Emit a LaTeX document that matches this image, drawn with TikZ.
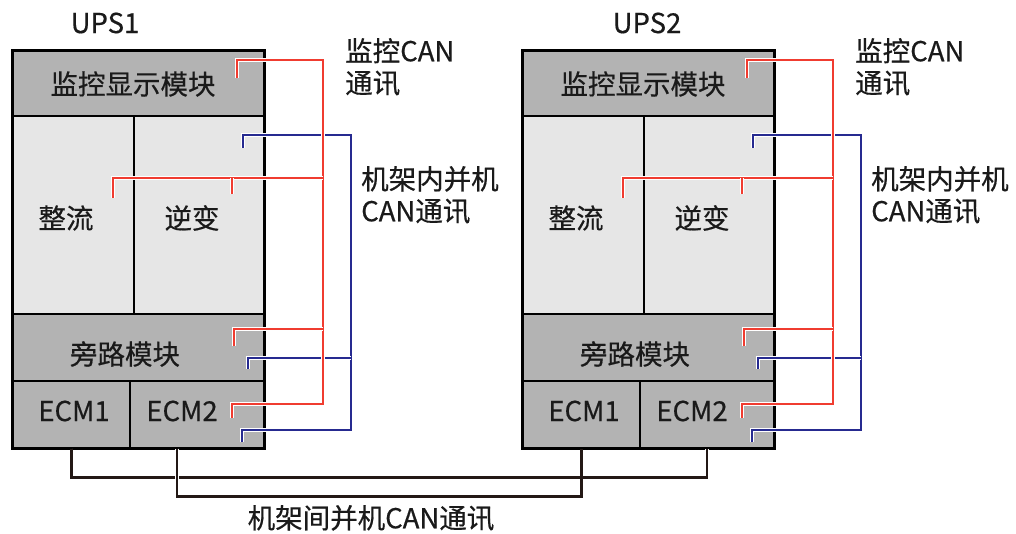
\documentclass[tikz,border=0pt]{standalone}
\usepackage{fontspec}
\setmainfont{Noto Sans CJK SC}[FakeBold=0.5]
\usepackage{xcolor}
\usepackage{tikz}
\usetikzlibrary{calc}
\definecolor{darkgray}{HTML}{B3B3B3}
\definecolor{lightgray}{HTML}{E6E6E6}
\definecolor{monred}{HTML}{F03C30}
\definecolor{canblue}{HTML}{262A90}
\definecolor{busline}{HTML}{231815}
\definecolor{ink}{HTML}{1A1A1A}
\tikzset{
  cell/.style={draw=black, line width=1.6pt, inner sep=0pt, anchor=north west},
  darkcell/.style={cell, fill=darkgray},
  lightcell/.style={cell, fill=lightgray},
  frame/.style={draw=black, line width=3pt},
  wire/.style={line width=2.4pt, preaction={draw=white, line width=3.6pt}},
  redwire/.style={wire, draw=monred},
  bluewire/.style={wire, draw=canblue},
  buswire/.style={wire, draw=busline},
  lbl/.style={font=\fontsize{27.5}{32}\selectfont, text=ink, inner sep=0pt, align=left}
}
\newcommand{\DrawUPS}[2]{% shift, suffix
  \begin{scope}[xshift=#1]
    % cells
    \node[darkcell, minimum width=251, minimum height=65] (mon#2) at (12,50) {};
    \node[lightcell, minimum width=121, minimum height=198] (rect#2) at (12,115) {};
    \node[lightcell, minimum width=130, minimum height=198] (inv#2) at (133,115) {};
    \node[darkcell, minimum width=251, minimum height=67] (byp#2) at (12,313) {};
    \node[darkcell, minimum width=117, minimum height=67] (ecma#2) at (12,380) {};
    \node[darkcell, minimum width=134, minimum height=67] (ecmb#2) at (129,380) {};
    \draw[frame] (mon#2.north west) rectangle (ecmb#2.south east);
    \node[lbl] (monl#2) at (133,84) {监控显示模块};
    \node[lbl] (rectl#2) at (66,218) {整流};
    \node[lbl] (invl#2) at (192,218) {逆变};
    \node[lbl] (bypl#2) at (125,354) {旁路模块};
    \node[lbl] (ecmal#2) at (74,411) {ECM1};
    \node[lbl] (ecmbl#2) at (182,411) {ECM2};
    % CAN trunks
    \coordinate (rt#2) at (323,60);
    \coordinate (rm#2) at (323,178);
    \coordinate (rb#2) at (323,404);
    \coordinate (bt#2) at (351,135);
    \coordinate (bb#2) at (351,430);
    \coordinate (pmon#2) at (237,78);
    \coordinate (prect#2) at (113,198);
    \coordinate (pinv#2) at (232,194);
    \coordinate (pbypr#2) at (234,346);
    \coordinate (pecmr#2) at (232,418);
    \coordinate (pinvb#2) at (243,148);
    \coordinate (pbypb#2) at (248,369);
    \coordinate (pecmb#2) at (242,442);
    \draw[bluewire] (pinvb#2) |- (bt#2) -- (bb#2) -| (pecmb#2);
    \draw[bluewire] (pbypb#2) |- (bt#2 |- 0,358);
    \draw[redwire] (pmon#2) |- (rt#2) -- (rb#2) -| (pecmr#2);
    \draw[redwire] (prect#2) |- (rm#2);
    \draw[redwire] (pinv#2) -- (pinv#2 |- rm#2);
    \draw[redwire] (pbypr#2) |- (rt#2 |- 0,329);
    % side labels
    \node[lbl, anchor=west] (monc#2) at (345,67) {监控CAN\\通讯};
    \node[lbl, anchor=west] (parc#2) at (361,195) {机架内并机\\CAN通讯};
  \end{scope}
}

\begin{document}
\begin{tikzpicture}[x=1pt, y=-1pt]
  \useasboundingbox (0,0) rectangle (1016,533);
  \DrawUPS{0}{1}
  \DrawUPS{510}{2}
  \node[lbl] (ups1) at (105,23) {UPS1};
  \node[lbl] (ups2) at (647,23) {UPS2};
  % rack-to-rack CAN
  \draw[buswire] (ecma1.south) -- ++(0,29) -| (ecmb2.south);
  \draw[buswire] ($(ecmb1.south)+(-20,0)$) -- ++(0,48) -| (ecma2.south);
  \node[lbl] (busl) at (371,518) {机架间并机CAN通讯};
\end{tikzpicture}
\end{document}
